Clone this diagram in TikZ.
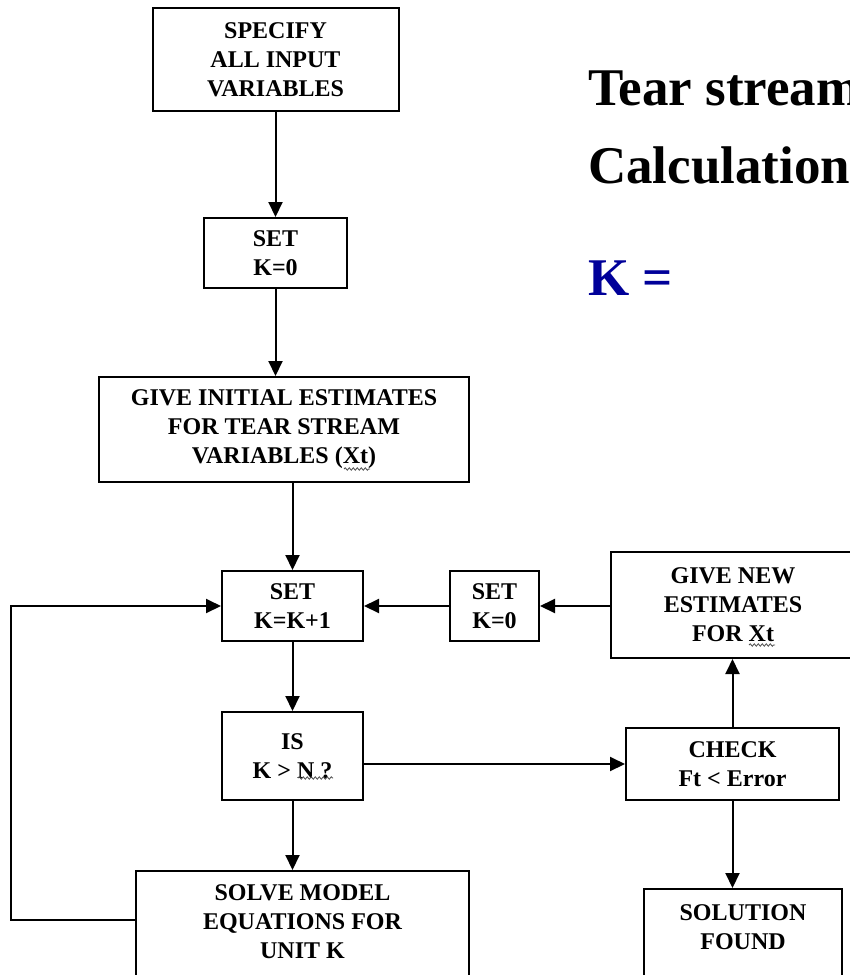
\documentclass[tikz,border=0pt]{standalone}
\usepackage{fontspec}
\setmainfont{Liberation Serif}
\usetikzlibrary{arrows.meta,decorations.pathmorphing}
\definecolor{titleblue}{RGB}{0,0,153}
\begin{document}
\begin{tikzpicture}[x=1pt,y=-1pt,
  box/.style={draw=black, line width=2pt, align=center, inner sep=0pt,
    font=\fontsize{24}{29}\selectfont\bfseries},
  boxtext/.style={align=center, inner sep=0pt, anchor=north,
    font=\fontsize{24}{29}\selectfont\bfseries},
  flow/.style={line width=2pt, -{Triangle[length=15pt,width=14pt]}},
  title/.style={anchor=base west, inner sep=0pt,
    font=\fontsize{53}{60}\selectfont\bfseries},
  squig/.style={draw=black!70, line width=0.8pt, decorate,
    decoration={snake, amplitude=1.2pt, segment length=4pt}}]
\useasboundingbox (0,0) rectangle (850,975);
\clip (0,0) rectangle (850,975);

% headings on the right
\node[title] (head1) at (588,105) {Tear stream};
\node[title] (head2) at (588,183) {Calculation};
\node[title, text=titleblue] (head3) at (588,295) {K =};

% main column
\node[box, minimum width=246pt, minimum height=103pt] (spec) at (275.5,59.5) {SPECIFY\\ALL INPUT\\VARIABLES};
\node[box, minimum width=143pt, minimum height=70pt] (set0) at (275.5,253) {SET\\K=0};
\node[box, minimum width=370pt, minimum height=105pt] (init) at (284,429.5) {GIVE INITIAL ESTIMATES\\FOR TEAR STREAM\\VARIABLES (Xt)};
\node[box, minimum width=141pt, minimum height=70pt] (setk) at (292.5,606) {SET\\K=K+1};
\node[box, minimum width=141pt, minimum height=88pt] (isk) at (292.5,756) {IS\\K > N ?};
\node[box, anchor=north, minimum width=333pt, minimum height=140pt] (solve) at (302.5,870) {};
\node[boxtext] (solvetext) at ([yshift=-14pt]solve.north) {SOLVE MODEL\\EQUATIONS FOR\\UNIT K};

% right column
\node[box, minimum width=89pt, minimum height=70pt] (reset) at (494.5,606) {SET\\K=0};
\node[box, minimum width=244pt, minimum height=106pt] (newest) at (733,605) {GIVE NEW\\ESTIMATES\\FOR Xt};
\node[box, minimum width=213pt, minimum height=72pt] (check) at (732.5,764) {CHECK\\Ft < Error};
\node[box, anchor=north, minimum width=198pt, minimum height=140pt] (sol) at (743,888) {};
\node[boxtext] (soltext) at ([yshift=-16pt]sol.north) {SOLUTION\\FOUND};

% spell-check squiggles
\draw[squig] (344,469) -- (370,469);
\draw[squig] (749,645) -- (775,645);
\draw[squig] (298,778) -- (333,778);

% connectors
\draw[flow] (spec.south) -- (set0.north);
\draw[flow] (set0.south) -- (set0.south |- init.north);
\draw[flow] (setk.north |- init.south) -- (setk.north);
\draw[flow] (setk.south) -- (isk.north);
\draw[flow] (isk.south) -- (isk.south |- solve.north);
\draw[flow] (isk.east |- check.west) -- (check.west);
\draw[flow] (check.north) -- (check.north |- newest.south);
\draw[flow] (check.south) -- (check.south |- sol.north);
\draw[flow] (newest.west |- reset.east) -- (reset.east);
\draw[flow] (reset.west) -- (setk.east);
\coordinate (loopB) at (11,920);
\coordinate (loopT) at (11,606);
\draw[flow] (solve.west |- loopB) -- (loopB) -- (loopT) -- (setk.west);
\end{tikzpicture}
\end{document}
